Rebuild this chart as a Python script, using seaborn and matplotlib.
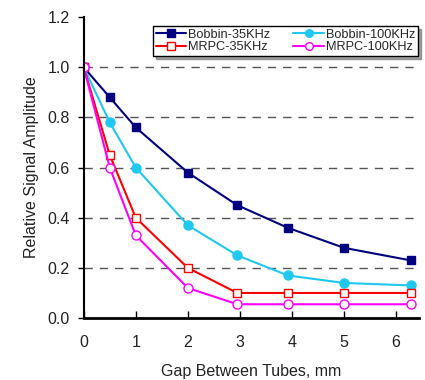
import numpy as np
import pandas as pd
import seaborn as sns
import matplotlib.pyplot as plt

# --- DATA ---
gap_mm = [0, 0.5, 1, 2, 2.95, 3.92, 5, 6.28]
bobbin_35 = [1.0, 0.88, 0.76, 0.58, 0.45, 0.36, 0.28, 0.23]
bobbin_100 = [1.0, 0.78, 0.60, 0.37, 0.25, 0.17, 0.14, 0.13]
mrpc_35 = [1.0, 0.65, 0.40, 0.20, 0.10, 0.10, 0.10, 0.10]
mrpc_100 = [1.0, 0.60, 0.33, 0.12, 0.055, 0.055, 0.055, 0.055]

series_names = ['Bobbin-35KHz', 'Bobbin-100KHz', 'MRPC-35KHz', 'MRPC-100KHz']
series_values = [bobbin_35, bobbin_100, mrpc_35, mrpc_100]

# --- STYLE ---
colors = {'Bobbin-35KHz': '#000080', 'Bobbin-100KHz': '#1EC8F0',
          'MRPC-35KHz': '#FF0000', 'MRPC-100KHz': '#FF00FF'}
markers = {'Bobbin-35KHz': 's', 'Bobbin-100KHz': 'o',
           'MRPC-35KHz': 's', 'MRPC-100KHz': 'o'}
filled = {'Bobbin-35KHz': True, 'Bobbin-100KHz': True,
          'MRPC-35KHz': False, 'MRPC-100KHz': False}

df = pd.concat([pd.DataFrame({'Gap': gap_mm, 'Amplitude': vals, 'Series': name})
                for name, vals in zip(series_names, series_values)], ignore_index=True)

sns.set_theme(style='white')
plt.rcParams['font.family'] = ['Liberation Sans', 'DejaVu Sans']

fig = plt.figure(figsize=(4.25, 3.8), dpi=100)
ax = fig.add_axes([0.197, 0.163, 0.79, 0.792])

for name in series_names:
    sub = df[df['Series'] == name]
    c = colors[name]
    sns.lineplot(data=sub, x='Gap', y='Amplitude', ax=ax, color=c, linewidth=1.5,
                 marker=markers[name], markersize=6 if markers[name] == 's' else 6.5,
                 markerfacecolor=c if filled[name] else 'white',
                 markeredgecolor=c, markeredgewidth=1.0, label=name)

ax.set_xlim(0, 6.45)
ax.set_ylim(0, 1.2)
ax.set_xticks(range(0, 7))
ax.set_yticks(np.arange(0, 1.21, 0.2))
ax.set_yticklabels([f'{v:.1f}' for v in np.arange(0, 1.21, 0.2)])

for y in np.arange(0.2, 1.01, 0.2):
    ax.axhline(y, color='#555555', linestyle=(0, (6, 5)), linewidth=1.0, zorder=0)

for s in ['top', 'right']:
    ax.spines[s].set_visible(False)
for s in ['left', 'bottom']:
    ax.spines[s].set_color('black')
    ax.spines[s].set_linewidth(1.5)
ax.spines['bottom'].set_linewidth(2)

ax.tick_params(axis='x', direction='in', length=5, width=1, color='black',
               labelsize=11.5, pad=12, labelcolor='#222222')
ax.tick_params(axis='y', direction='out', length=4, width=1, color='black',
               labelsize=11.5, pad=6, labelcolor='#222222')
ax.xaxis.set_ticks_position('bottom')
ax.yaxis.set_ticks_position('left')

ax.set_xlabel('Gap Between Tubes, mm', fontsize=11.5, labelpad=10, color='#222222')
ax.set_ylabel('Relative Signal Amplitude', fontsize=11.5, labelpad=6, color='#222222')

# legend rows: Bobbin pair on top, MRPC pair below (ncol fills column-wise)
handles, labels = ax.get_legend_handles_labels()
order = [labels.index(n) for n in ['Bobbin-35KHz', 'MRPC-35KHz', 'Bobbin-100KHz', 'MRPC-100KHz']]
leg = ax.legend([handles[i] for i in order], [labels[i] for i in order],
                ncol=2, loc='upper right', bbox_to_anchor=(0.995, 0.97),
                fontsize=9.2, frameon=True, fancybox=False, shadow=True,
                handlelength=2.4, handletextpad=0.15, columnspacing=1.8,
                borderpad=0.2, labelspacing=0.05, borderaxespad=0, markerscale=0.85)
leg.get_frame().set_edgecolor('black')
leg.get_frame().set_linewidth(1.0)

fig.savefig('out.png', dpi=100)
